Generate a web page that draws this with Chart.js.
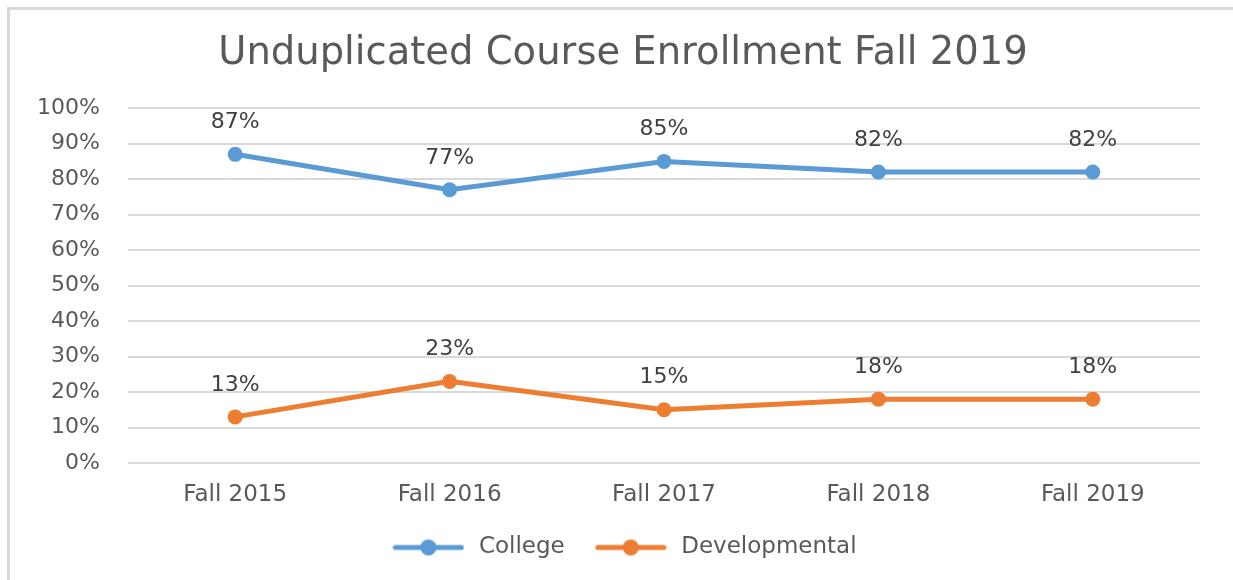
<!DOCTYPE html>
<html lang="en">
<head>
  <meta charset="UTF-8">
  <title>Unduplicated Course Enrollment Fall 2019</title>
  <script src="https://cdn.jsdelivr.net/npm/chart.js"></script>
  <style>
    body {
      margin: 0;
      background: #ffffff;
    }
    .frame {
      position: absolute;
      left: 7px;
      top: 7px;
      width: 1240px;
      height: 600px;
      border-left: 3px solid #d9d9d9;
      border-top: 3px solid #d9d9d9;
    }
    .wrap {
      position: absolute;
      left: 0;
      top: 0;
      width: 1233px;
      height: 580px;
    }
  </style>
</head>
<body>
  <div class="frame"></div>
  <div class="wrap">
    <canvas id="enrollChart" width="1233" height="580"></canvas>
  </div>

  <script>
    const terms = ['Fall 2015', 'Fall 2016', 'Fall 2017', 'Fall 2018', 'Fall 2019'];
    const collegePct = [87, 77, 85, 82, 82];
    const developmentalPct = [13, 23, 15, 18, 18];

    const BLUE = '#5b9bd5';
    const ORANGE = '#ed7d31';
    const TEXT = '#595959';
    const FONT = "'DejaVu Sans', sans-serif";

    // little line-with-dot swatch, like the Excel legend
    function swatch(color) {
      const c = document.createElement('canvas');
      c.width = 72;
      c.height = 18;
      const g = c.getContext('2d');
      g.strokeStyle = color;
      g.lineWidth = 5;
      g.lineCap = 'round';
      g.beginPath();
      g.moveTo(3, 9);
      g.lineTo(69, 9);
      g.stroke();
      g.fillStyle = color;
      g.beginPath();
      g.arc(36, 9, 8, 0, Math.PI * 2);
      g.fill();
      return c;
    }
    const swatches = [swatch(BLUE), swatch(ORANGE)];

    // value labels above every point
    const pointLabels = {
      id: 'pointLabels',
      afterDatasetsDraw(chart) {
        const ctx = chart.ctx;
        ctx.save();
        ctx.font = '22px ' + FONT;
        ctx.fillStyle = '#404040';
        ctx.textAlign = 'center';
        ctx.textBaseline = 'middle';
        chart.data.datasets.forEach((ds, i) => {
          chart.getDatasetMeta(i).data.forEach((pt, j) => {
            ctx.fillText(ds.data[j] + '%', pt.x, pt.y - 32);
          });
        });
        ctx.restore();
      }
    };

    // title and legend sit a bit right of the canvas middle in the original
    const nudgeBlocks = {
      id: 'nudgeBlocks',
      afterLayout(chart) {
        chart.titleBlock.left += 46;
        chart.legend.left += 46;
      }
    };

    const ctx = document.getElementById('enrollChart').getContext('2d');
    const enrollChart = new Chart(ctx, {
      type: 'line',
      data: {
        labels: terms,
        datasets: [{
          label: 'College',
          data: collegePct,
          borderColor: BLUE,
          backgroundColor: BLUE,
          borderWidth: 5,
          pointRadius: 7.5,
          pointHoverRadius: 7.5,
          pointBorderWidth: 0,
          tension: 0
        }, {
          label: 'Developmental',
          data: developmentalPct,
          borderColor: ORANGE,
          backgroundColor: ORANGE,
          borderWidth: 5,
          pointRadius: 7.5,
          pointHoverRadius: 7.5,
          pointBorderWidth: 0,
          tension: 0
        }]
      },
      options: {
        responsive: false,
        animation: false,
        layout: {
          padding: { left: 0, right: 33, top: 0, bottom: 11 }
        },
        plugins: {
          title: {
            display: true,
            text: 'Unduplicated Course Enrollment Fall 2019',
            color: TEXT,
            font: { family: FONT, size: 38.5, weight: 'normal' },
            padding: { top: 31, bottom: 31 }
          },
          legend: {
            position: 'bottom',
            labels: {
              color: TEXT,
              font: { family: FONT, size: 23 },
              usePointStyle: true,
              pointStyleWidth: 78,
              padding: 27,
              generateLabels(chart) {
                const items = Chart.defaults.plugins.legend.labels.generateLabels(chart);
                items.forEach((it, i) => { it.pointStyle = swatches[i]; });
                return items;
              }
            }
          },
          tooltip: { enabled: false }
        },
        scales: {
          x: {
            offset: true,
            afterFit(scale) { scale.height = 46; },
            grid: { display: false, drawTicks: false },
            border: { display: false },
            ticks: {
              color: TEXT,
              font: { family: FONT, size: 23 },
              padding: 18
            }
          },
          y: {
            min: 0,
            max: 100,
            afterFit(scale) { scale.width = 128; },
            grid: { color: '#d9d9d9', lineWidth: 2, drawTicks: false },
            border: { display: false },
            ticks: {
              stepSize: 10,
              color: TEXT,
              font: { family: FONT, size: 22 },
              padding: 28,
              callback: v => v + '%'
            }
          }
        }
      },
      plugins: [pointLabels, nudgeBlocks]
    });
  </script>
</body>
</html>
